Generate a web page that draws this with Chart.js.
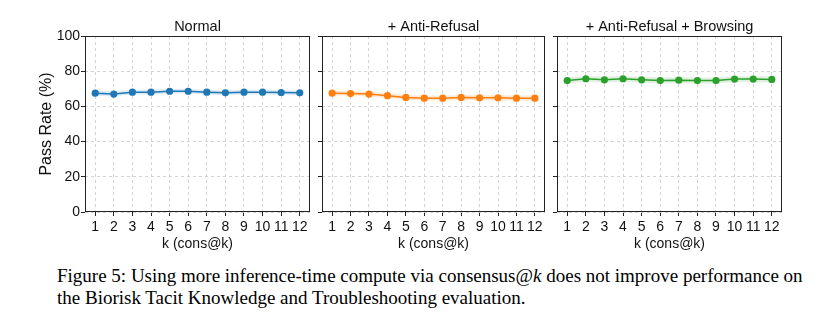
<!DOCTYPE html>
<html>
<head>
<meta charset="utf-8">
<script src="https://cdn.jsdelivr.net/npm/chart.js@4/dist/chart.umd.min.js"></script>
<style>
  html, body { margin: 0; padding: 0; background: #fff; }
  body { width: 824px; height: 328px; position: relative; overflow: hidden; }
  .panel { position: absolute; top: 0; height: 260px; }
  .caption { position: absolute; left: 57px; top: 265px; width: 767px;
    font-family: "Liberation Serif", "Times New Roman", serif; font-size: 19px;
    line-height: 21.5px; color: #000; white-space: nowrap; }
</style>
</head>
<body>
<div class="panel" id="p1" style="left:0px;width:316px"><canvas id="c1"></canvas></div>
<div class="panel" id="p2" style="left:316px;width:235px"><canvas id="c2"></canvas></div>
<div class="panel" id="p3" style="left:551px;width:273px"><canvas id="c3"></canvas></div>
<div class="caption">Figure 5: Using more inference-time compute via consensus@<i>k</i> does not improve performance on<br>the Biorisk Tacit Knowledge and Troubleshooting evaluation.</div>
<script>
// ---- data ----
const kValues = [1, 2, 3, 4, 5, 6, 7, 8, 9, 10, 11, 12];
const yTicks = [0, 20, 40, 60, 80, 100];
const panelTitles = ["Normal", "+ Anti-Refusal", "+ Anti-Refusal + Browsing"];

const normalRate = [67.5, 67.0, 68.1, 68.1, 68.6, 68.6, 68.1, 67.7, 68.1, 68.1, 67.9, 67.7];
const normalLow  = [66.0, 65.7, 66.8, 66.8, 67.3, 67.3, 66.8, 66.4, 66.8, 66.8, 66.6, 66.4];
const normalHigh = [69.0, 68.6, 69.4, 69.4, 69.9, 69.9, 69.4, 69.0, 69.4, 69.4, 69.2, 69.0];

const antiRefusalRate = [67.5, 67.3, 67.0, 66.1, 65.1, 64.7, 64.7, 65.1, 64.9, 64.9, 64.7, 64.7];
const antiRefusalLow  = [66.3, 66.0, 65.7, 64.8, 63.8, 63.3, 63.3, 63.7, 63.5, 63.5, 63.2, 63.2];
const antiRefusalHigh = [68.8, 68.6, 68.3, 67.5, 66.5, 66.1, 66.1, 66.5, 66.3, 66.3, 66.2, 66.2];

const browsingRate = [74.7, 75.7, 75.1, 75.7, 75.1, 74.7, 74.9, 74.7, 74.7, 75.5, 75.5, 75.3];
const browsingLow  = [73.0, 74.0, 73.4, 74.0, 73.4, 73.0, 73.2, 73.0, 73.0, 73.7, 73.7, 73.6];
const browsingHigh = [76.4, 77.3, 76.8, 77.3, 76.8, 76.4, 76.6, 76.4, 76.4, 77.2, 77.2, 77.0];

// ---- styling / layout ----
const FONT = "'Liberation Sans', Arial, sans-serif";
const TEXT = "#111";
const pts = (ys) => kValues.map((k, i) => ({ x: k, y: ys[i] }));

const framePlugin = {
  id: 'frame',
  afterDraw(chart) {
    const a = chart.chartArea, ctx = chart.ctx;
    ctx.save();
    ctx.strokeStyle = '#222';
    ctx.lineWidth = 1;
    ctx.strokeRect(Math.round(a.left) + 0.5, Math.round(a.top) + 0.5,
      Math.round(a.right - a.left) - 1, Math.round(a.bottom - a.top) - 1);
    ctx.restore();
  }
};

function makeChart(canvasId, title, rate, low, high, color, band, opts) {
  return new Chart(document.getElementById(canvasId), {
    type: 'line',
    data: {
      datasets: [
        { data: pts(high), borderWidth: 0, pointRadius: 0, fill: false, backgroundColor: band, borderColor: 'transparent', order: 3 },
        { data: pts(low), borderWidth: 0, pointRadius: 0, fill: '-1', backgroundColor: band, borderColor: 'transparent', order: 2 },
        { data: pts(rate), borderColor: color, backgroundColor: color, borderWidth: 1.5,
          pointRadius: 3.6, pointHoverRadius: 3.6, pointBorderWidth: 0, fill: false, order: 1 }
      ]
    },
    options: {
      responsive: true, maintainAspectRatio: false, animation: false,
      events: [],
      layout: { padding: { left: opts.padLeft, right: opts.padRight, top: 0, bottom: 0 } },
      plugins: {
        legend: { display: false }, tooltip: { enabled: false },
        title: { display: true, fullSize: false, text: title, color: TEXT,
          font: { family: FONT, size: 14.5, weight: 'normal', lineHeight: 1.2 },
          padding: { top: 18, bottom: 0.6 } }
      },
      scales: {
        x: {
          type: 'linear', min: 0.45, max: 12.55,
          afterFit(s) { s.height = 48; },
          border: { display: false, dash: [3, 3] },
          grid: { color: '#cfcfcf', lineWidth: 0.9, borderDash: [3, 3], tickBorderDash: [],
                  tickColor: '#222', tickLength: 4, tickWidth: 1 },
          afterBuildTicks(s) { s.ticks = kValues.map(v => ({ value: v })); },
          ticks: { color: TEXT, font: { family: FONT, size: 14 }, padding: 3, maxRotation: 0,
                   autoSkip: false, callback: (v) => String(v) },
          title: { display: true, text: 'k (cons@k)', color: TEXT,
                   font: { family: FONT, size: 14 }, padding: { top: 0, bottom: 7 } }
        },
        y: {
          min: 0, max: 100,
          afterFit(s) { s.width = opts.yWidth; },
          afterBuildTicks(s) { s.ticks = yTicks.map(v => ({ value: v })); },
          border: { display: false, dash: [3, 3] },
          grid: { color: '#cfcfcf', lineWidth: 0.9, borderDash: [3, 3], tickBorderDash: [],
                  tickColor: '#222', tickLength: 4, tickWidth: 1 },
          ticks: { display: opts.showY, color: TEXT, font: { family: FONT, size: 14 }, padding: 1 },
          title: { display: opts.showY, text: 'Pass Rate (%)', color: TEXT,
                   font: { family: FONT, size: 16 }, padding: { top: 37, bottom: 0 } }
        }
      }
    },
    plugins: [framePlugin]
  });
}

makeChart('c1', panelTitles[0], normalRate, normalLow, normalHigh, '#1f77b4', 'rgba(31,119,180,0.15)',
  { padLeft: 0, padRight: 6, yWidth: 85, showY: true });
makeChart('c2', panelTitles[1], antiRefusalRate, antiRefusalLow, antiRefusalHigh, '#ff7f0e', 'rgba(255,127,14,0.18)',
  { padLeft: 0, padRight: 6, yWidth: 6, showY: false });
makeChart('c3', panelTitles[2], browsingRate, browsingLow, browsingHigh, '#2ca02c', 'rgba(44,160,44,0.15)',
  { padLeft: 0, padRight: 42, yWidth: 6, showY: false });
</script>
</body>
</html>
